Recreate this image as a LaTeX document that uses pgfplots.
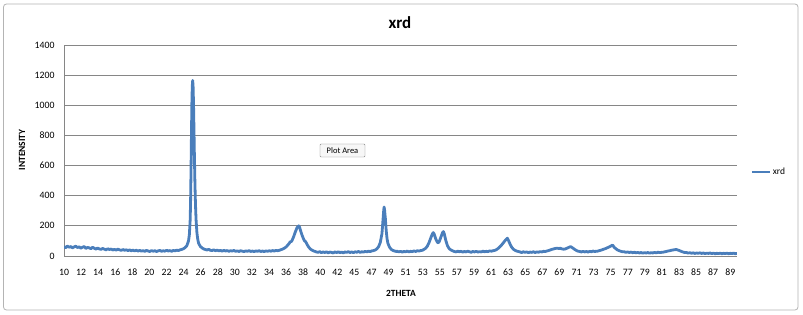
\documentclass[border=0pt]{standalone}
\usepackage{pgfplots}
\pgfplotsset{compat=1.18}
\usepackage{fontspec}
\setmainfont{Carlito}
\definecolor{xrdblue}{HTML}{4A7EBB}
\definecolor{gridgray}{HTML}{868686}
\definecolor{framegray}{HTML}{B4B4B4}
\begin{document}
\begin{tikzpicture}
\path[use as bounding box, fill=white] (0bp,0bp) rectangle (803bp,315bp);
\draw[framegray, line width=0.8bp, rounded corners=3bp] (3.5bp,5bp) rectangle (798bp,311bp);
\begin{axis}[
  at={(64bp,59bp)}, anchor=south west,
  scale only axis, width=673bp, height=211bp,
  xmin=10, xmax=90, ymin=0, ymax=1400,
  axis lines*=left,
  axis line style={gridgray, line width=0.9bp},
  major tick length=0pt,
  ytick={0,200,400,600,800,1000,1200,1400},
  ymajorgrids, major grid style={gridgray, line width=0.9bp},
  xtick={10,12.0308,14.0616,16.0924,18.1232,20.154,22.1848,24.2156,26.2464,28.2772,30.308,32.3388,34.3696,36.4004,38.4312,40.462,42.4928,44.5236,46.5544,48.5852,50.616,52.6468,54.6776,56.7084,58.7392,60.77,62.8008,64.8316,66.8624,68.8932,70.924,72.9548,74.9856,77.0164,79.0472,81.078,83.1088,85.1396,87.1704,89.2012},
  xticklabels={10,12,14,16,18,20,22,24,26,28,30,32,34,36,38,40,42,45,47,49,51,53,55,57,59,61,63,65,67,69,71,73,75,77,79,81,83,85,87,89},
  /pgf/number format/assume math mode=true,
  /pgf/number format/1000 sep={},
  tick label style={font=\fontsize{9.8}{11}\selectfont},
  xticklabel style={anchor=center, yshift=-16bp},
  yticklabel style={anchor=east, xshift=-6bp},
  legend style={at={(rel axis cs:1.0208,0.398)}, anchor=west, draw=none, fill=none, inner sep=0pt, font=\fontsize{9.5}{11}\selectfont},
  legend cell align=left,
  legend image code/.code={\draw[#1, line width=1.6bp] (0bp,0bp) -- (18bp,0bp);},
  clip=true,
]
\addplot[xrdblue, line width=2.8bp, line join=round] table {
x y
10.0 62
10.2 55
10.4 66
10.6 58
10.8 63
11.0 54
11.2 60
11.4 65
11.6 56
11.8 61
12.0 52
12.2 58
12.4 63
12.6 50
12.8 57
13.0 54
13.2 48
13.4 58
13.6 51
13.8 46
14.0 53
14.2 47
14.4 44
14.6 50
14.8 45
15.0 41
15.2 48
15.4 43
15.6 46
15.8 40
16.0 44
16.2 39
16.4 45
16.6 41
16.8 37
17.0 43
17.2 38
17.4 41
17.6 36
17.8 40
18.0 35
18.2 39
18.4 34
18.6 38
18.8 33
19.0 37
19.2 32
19.4 36
19.6 31
19.8 37
20.0 33
20.2 30
20.4 36
20.6 32
20.8 35
21.0 30
21.2 34
21.4 37
21.6 31
21.8 35
22.0 32
22.2 38
22.4 33
22.6 36
22.8 31
23.0 37
23.2 34
23.4 39
23.6 36
23.8 41
24.0 44
24.2 48
24.4 56
24.6 68
24.8 100
24.9 140
25.0 240
25.05 370
25.1 570
25.15 800
25.2 1010
25.25 1130
25.3 1165
25.35 1120
25.4 1000
25.45 840
25.5 670
25.55 520
25.6 400
25.65 310
25.7 240
25.8 155
25.9 110
26.0 85
26.2 64
26.4 54
26.6 47
26.8 43
27.0 40
27.2 44
27.4 38
27.6 36
27.8 41
28.0 35
28.2 39
28.4 34
28.6 37
28.8 32
29.0 38
29.2 33
29.4 36
29.6 31
29.8 35
30.0 33
30.2 37
30.4 31
30.6 34
30.8 30
31.0 35
31.2 32
31.4 29
31.6 34
31.8 31
32.0 36
32.2 30
32.4 33
32.6 29
32.8 34
33.0 31
33.2 35
33.4 30
33.6 33
33.8 29
34.0 34
34.2 31
34.4 35
34.6 32
34.8 36
35.0 33
35.2 37
35.4 35
35.6 38
35.8 42
36.0 46
36.2 52
36.4 60
36.6 72
36.8 86
36.9 96
37.0 94
37.1 102
37.3 128
37.5 160
37.7 188
37.9 200
38.0 192
38.1 172
38.3 138
38.5 110
38.6 100
38.7 96
38.8 88
38.9 76
39.1 58
39.3 46
39.5 38
39.7 33
39.9 29
40.0 27
40.2 24
40.4 29
40.6 22
40.8 27
41.0 23
41.2 28
41.4 21
41.6 26
41.8 24
42.0 20
42.2 27
42.4 23
42.6 28
42.8 22
43.0 26
43.2 21
43.4 27
43.6 24
43.8 29
44.0 23
44.2 27
44.4 22
44.6 28
44.8 25
45.0 30
45.2 24
45.4 28
45.6 26
45.8 31
46.0 27
46.2 32
46.4 29
46.6 34
46.8 36
47.0 40
47.2 48
47.4 62
47.6 90
47.8 150
47.9 225
48.0 300
48.05 325
48.1 310
48.2 250
48.3 170
48.4 115
48.5 85
48.7 58
48.9 44
49.1 37
49.3 33
49.5 30
49.6 32
49.8 27
50.0 31
50.2 26
50.4 30
50.6 28
50.8 33
51.0 27
51.2 31
51.4 29
51.6 34
51.8 30
52.0 35
52.2 33
52.4 36
52.6 38
52.8 44
53.0 52
53.2 66
53.4 90
53.6 120
53.8 148
53.9 155
54.0 146
54.2 112
54.4 90
54.5 88
54.6 95
54.8 125
55.0 155
55.1 162
55.2 148
55.4 100
55.6 66
55.8 48
56.0 40
56.2 34
56.4 30
56.6 27
56.8 32
57.0 28
57.2 31
57.4 26
57.6 30
57.8 27
58.0 32
58.2 28
58.4 25
58.6 30
58.8 27
59.0 31
59.2 26
59.4 29
59.6 27
59.8 32
60.0 28
60.2 31
60.4 29
60.6 34
60.8 32
61.0 35
61.2 37
61.4 42
61.6 50
61.8 60
62.0 72
62.2 86
62.4 100
62.6 112
62.7 118
62.8 108
63.0 82
63.2 60
63.4 46
63.6 38
63.8 33
64.0 30
64.2 27
64.4 23
64.6 28
64.8 24
65.0 27
65.2 22
65.4 26
65.6 24
65.8 28
66.0 23
66.2 27
66.4 25
66.6 29
66.8 27
67.0 31
67.2 30
67.4 33
67.6 36
67.8 40
68.0 44
68.2 47
68.4 50
68.6 52
68.8 50
69.0 51
69.2 47
69.4 45
69.6 47
69.8 52
70.0 57
70.2 62
70.3 60
70.5 52
70.7 44
70.9 37
71.1 32
71.3 30
71.5 27
71.7 31
71.9 27
72.1 30
72.3 26
72.5 31
72.7 28
72.9 33
73.1 29
73.2 31
73.4 32
73.6 35
73.8 38
74.0 42
74.2 46
74.4 50
74.6 55
74.8 60
75.0 66
75.2 72
75.3 66
75.4 58
75.6 48
75.8 40
76.0 35
76.2 31
76.4 28
76.6 28
76.8 24
77.0 27
77.2 23
77.4 26
77.6 22
77.8 25
78.0 21
78.2 24
78.4 20
78.6 23
78.8 19
79.0 22
79.2 20
79.4 23
79.6 19
79.8 22
80.0 20
80.2 24
80.4 21
80.6 25
80.8 23
81.0 24
81.2 25
81.4 28
81.6 30
81.8 33
82.0 35
82.2 38
82.4 40
82.6 42
82.8 43
83.0 39
83.2 35
83.4 30
83.6 26
83.8 23
84.0 23
84.2 19
84.4 22
84.6 18
84.8 21
85.0 17
85.2 20
85.4 18
85.6 21
85.8 17
86.0 20
86.2 16
86.4 19
86.6 17
86.8 20
87.0 16
87.2 19
87.4 15
87.6 18
87.8 16
88.0 19
88.2 15
88.4 18
88.6 16
88.8 19
89.0 15
89.2 18
89.4 16
89.6 19
89.8 15
90.0 17
};
\addlegendentry{xrd}
\end{axis}
\node[anchor=base, font=\fontsize{17}{20}\selectfont\bfseries] at (400bp,286bp) {xrd};
\node[rotate=90, font=\fontsize{9.5}{11}\selectfont\bfseries] at (22bp,165bp) {INTENSITY};
\node[anchor=base, font=\fontsize{9.5}{11}\selectfont\bfseries] at (401bp,19bp) {2THETA};
\node[draw=gridgray, fill=gray!6, inner sep=2bp, rounded corners=1bp, minimum width=45bp, minimum height=13bp, font=\fontsize{8.5}{10}\selectfont] at (342.5bp,164.5bp) {Plot Area};
\end{tikzpicture}
\end{document}
